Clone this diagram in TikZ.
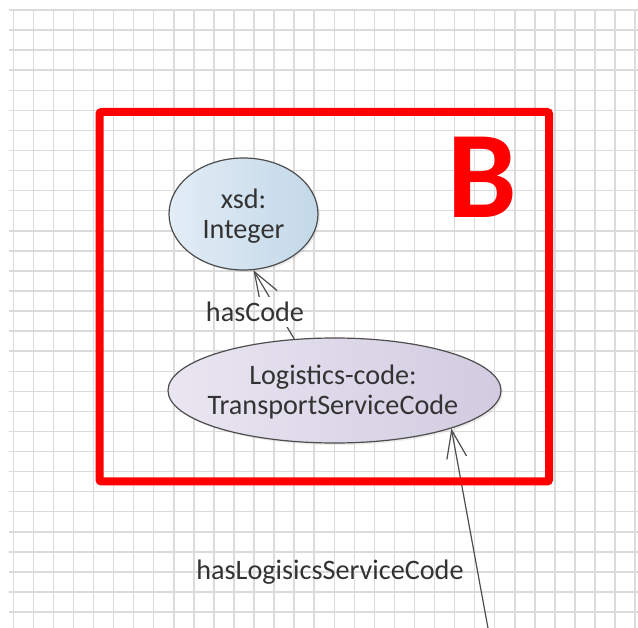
\documentclass[tikz,border=0pt]{standalone}
\usepackage{fontspec}
\setmainfont{Carlito}
\usetikzlibrary{shapes.geometric}
\usetikzlibrary{arrows.meta}
\usetikzlibrary{shadows}
\definecolor{gridgray}{HTML}{DBDBDB}
\definecolor{linegray}{HTML}{4D4D4D}
\definecolor{textgray}{HTML}{333333}
\definecolor{xsdleft}{HTML}{E2EDF6}
\definecolor{xsdright}{HTML}{C3D8E8}
\definecolor{codeleft}{HTML}{E9E6F1}
\definecolor{coderight}{HTML}{D2CBE1}
\tikzset{
  gridline/.style={line width=1.5pt, gridgray},
  redframe/.style={line width=8pt, red, rounded corners=2pt},
  classnode/.style={ellipse, draw=linegray, line width=1.2pt, inner sep=0pt,
    drop shadow={opacity=0.15, shadow xshift=2pt, shadow yshift=-2pt}},
  classtext/.style={align=center, text=textgray, font=\fontsize{28.2}{30}\selectfont},
  proplabel/.style={text=textgray, font=\fontsize{28.2}{30}\selectfont, inner sep=5pt},
  proparrow/.style={draw=linegray, line width=1.2pt, -{Straight Barb[length=28pt, width=20pt]}},
}

\begin{document}
\begin{tikzpicture}[x=1pt, y=-1pt]
\useasboundingbox (0,0) rectangle (638,628);

%Grid
	\foreach \i in {0,...,31}
		\draw[gridline] ({13.3+20.06*\i},10) -- ({13.3+20.06*\i},628);
	\foreach \j in {0,...,30}
		\draw[gridline] (9,{10+20.07*\j}) -- (638,{10+20.07*\j});

% Classes
	\node[classnode, left color=xsdleft, right color=xsdright,
		minimum width=149pt, minimum height=112pt] (xsd) at (243.5,214) {};
	\node[classtext] (xsdtext) at (243.5,216) {xsd:\\Integer};

	\node[classnode, left color=codeleft, right color=coderight,
		minimum width=333pt, minimum height=105pt] (logi) at (334.5,390.5) {};
	\node[classtext] (logitext) at (333,392) {Logistics-code:\\TransportServiceCode};

% Properties
	\node[proplabel] (hascode) at (255,312) {hasCode};
	\node[proplabel] (haslogi) at (330,572) {hasLogisicsServiceCode};
	\coordinate (src) at (492,650);

	\begin{scope}
		\clip (-5,-5) rectangle (650,660) (hascode.south west) rectangle (hascode.north east);
		\draw[proparrow] (logi.128) -- (xsd.-80);
	\end{scope}
	\draw[proparrow] (src) -- (logi.-18);

% Frame B
	\draw[redframe] (99.5,112) rectangle (549,481.5);
	\node[text=red, font=\fontsize{124}{124}\selectfont\bfseries] (btag) at (482,177) {B};

\end{tikzpicture}
\end{document}
